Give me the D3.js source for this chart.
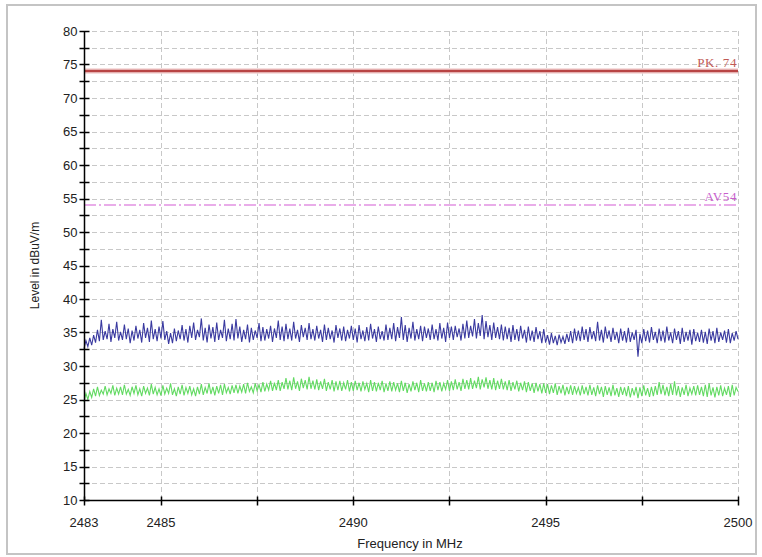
<!DOCTYPE html>
<html>
<head>
<meta charset="utf-8">
<script src="https://cdn.jsdelivr.net/npm/d3@7"></script>
<style>
  body { margin: 0; background: #fff; }
  svg { display: block; font-family: "Liberation Sans", Arial, sans-serif; }
</style>
</head>
<body>
<svg id="chart" width="762" height="557"></svg>
<script>
// sweep grid (MHz)
var freqStart = 2483, freqStep = 0.05;

// peak trace (dBuV/m), one value per sweep step
var peakLevel = [
  32.6,33.8,32.9,34.2,33.1,34.6,33.5,35.4,33.7,36.9,33.9,35.2,34.0,36.3,33.6,35.5,34.2,36.6,33.8,35.1,
  33.9,36.2,34.0,35.6,33.4,35.3,33.8,36.0,34.1,35.4,33.5,36.4,34.2,35.7,33.6,36.8,34.0,35.5,33.7,35.9,
  34.1,36.7,33.9,35.2,33.3,34.9,33.4,35.6,33.7,35.3,34.0,36.1,33.8,35.5,33.5,36.0,34.2,36.5,33.9,35.4,
  34.3,37.1,33.8,35.7,33.5,36.2,34.1,35.8,33.6,36.5,33.9,35.4,34.2,36.9,33.7,35.6,34.0,36.3,33.8,37.0,
  34.1,35.9,33.6,35.4,34.0,36.2,33.5,35.7,33.9,35.3,34.2,36.4,33.7,35.8,33.8,35.5,34.1,36.0,33.6,35.6,
  34.2,36.8,33.9,35.9,33.7,36.3,34.0,35.6,33.8,36.6,34.1,35.4,33.6,36.1,34.3,35.7,33.9,36.4,34.0,35.5,
  33.8,36.0,34.1,35.4,33.6,36.2,33.9,35.7,34.0,35.3,33.5,36.1,34.2,35.6,33.8,35.9,33.7,35.4,34.1,36.0,
  33.9,35.6,33.5,36.1,34.0,35.3,33.7,35.8,33.8,36.3,34.1,35.5,33.6,35.9,34.0,35.2,33.8,36.2,33.9,35.7,
  34.0,36.4,33.7,35.8,34.2,37.3,33.9,36.1,33.6,35.7,34.1,36.6,33.8,35.5,34.0,36.0,33.7,35.9,34.2,35.6,
  33.9,36.2,34.0,35.5,33.8,36.4,34.1,35.7,33.6,36.5,34.2,35.9,33.9,36.0,34.3,35.6,33.8,36.3,34.1,36.8,
  34.2,36.0,34.4,37.0,34.1,36.4,34.5,37.6,34.0,36.7,34.3,36.1,33.9,36.5,34.2,35.8,34.0,36.2,33.8,35.9,
  34.0,35.7,33.6,36.1,33.9,35.5,33.7,36.0,34.1,35.4,33.5,35.9,33.8,35.3,33.6,35.8,34.0,35.2,33.4,35.5,
  33.5,34.6,33.2,34.9,33.4,34.5,33.1,34.7,33.5,34.4,33.3,34.8,33.6,35.2,33.4,35.6,33.8,35.3,33.7,35.9,
  33.9,35.5,33.6,35.8,34.0,35.2,33.7,36.6,33.8,35.4,33.5,35.9,34.1,35.3,33.6,35.7,33.9,35.1,33.4,35.6,
  33.8,35.2,33.5,35.7,33.6,35.0,33.9,35.4,31.4,34.8,33.4,35.5,33.7,35.3,33.5,35.8,33.9,35.1,33.4,35.6,
  33.7,35.3,33.5,35.9,33.8,35.0,33.4,35.6,33.9,35.2,33.3,35.7,33.6,35.1,33.8,35.4,33.2,35.5,33.7,35.0,
  33.6,35.4,33.5,35.1,33.3,35.6,33.8,35.2,33.4,35.7,33.6,35.0,33.9,35.3,33.5,35.5,33.4,34.9,33.8,35.2,
  34.0
];

// average trace (dBuV/m)
var avgLevel = [
  24.6,25.9,25.0,26.2,25.3,26.6,25.5,26.9,25.6,26.4,25.8,27.0,25.7,26.6,25.9,27.1,25.6,26.7,25.8,26.9,
  25.7,27.2,25.8,26.5,25.6,26.9,25.9,27.1,25.7,26.6,25.5,27.0,25.9,26.7,25.6,27.3,25.8,26.8,25.7,26.6,
  25.6,27.1,25.8,26.7,25.9,27.4,25.7,26.6,25.5,26.9,25.8,27.2,25.6,26.8,25.9,27.0,25.7,26.6,25.5,26.9,
  25.8,27.3,25.7,26.8,25.9,27.4,25.8,26.9,25.6,27.0,25.9,27.2,25.7,27.3,26.0,26.8,25.8,27.1,26.0,27.2,
  25.9,27.0,26.1,27.3,25.9,27.5,26.2,26.9,26.0,27.4,26.3,27.2,26.1,27.6,26.2,27.3,26.4,27.8,26.3,27.5,
  26.4,27.9,26.3,27.6,26.6,28.2,26.5,27.8,26.4,28.3,26.6,27.7,26.3,28.1,26.7,27.9,26.5,28.4,26.6,27.8,
  26.5,28.0,26.4,27.7,26.6,28.1,26.3,27.6,26.5,27.9,26.2,27.7,26.4,27.8,26.3,27.5,26.5,27.9,26.2,27.6,
  26.3,27.8,26.4,27.5,26.2,27.7,26.5,27.4,26.1,27.9,26.3,27.6,26.2,27.5,26.4,27.8,26.1,27.4,26.3,27.7,
  26.2,27.6,26.4,27.4,26.1,27.8,26.3,27.5,26.0,27.3,26.2,27.7,26.4,27.5,26.1,27.9,26.3,27.4,26.2,27.6,
  26.3,27.5,26.1,27.8,26.4,27.6,26.2,27.4,26.5,27.9,26.3,27.7,26.4,28.0,26.5,27.6,26.3,28.1,26.6,27.9,
  26.5,28.2,26.6,27.8,26.7,28.4,26.5,28.0,26.8,28.3,26.6,27.9,26.5,28.2,26.4,27.8,26.6,28.1,26.5,27.7,
  26.4,27.9,26.3,27.6,26.5,27.8,26.2,27.5,26.4,27.7,26.1,27.6,26.3,27.4,26.0,27.5,26.2,27.3,25.9,27.4,
  26.0,27.3,25.8,27.1,26.0,27.4,25.7,27.0,25.9,27.2,25.6,26.9,25.8,27.1,25.7,27.0,25.9,26.8,25.6,27.1,
  25.8,26.9,25.6,27.2,25.7,26.8,25.5,27.1,25.8,26.9,25.4,27.0,25.7,26.8,25.5,27.2,25.6,26.7,25.4,26.9,
  25.7,26.8,25.5,27.0,25.3,26.7,25.6,26.9,25.2,26.8,25.5,27.1,25.6,26.7,25.4,26.9,25.5,27.0,25.7,27.6,
  25.8,27.2,25.6,26.9,25.5,27.3,25.7,27.7,25.6,27.0,25.4,26.8,25.7,27.2,25.5,26.7,25.8,27.0,25.6,27.1,
  25.7,26.9,25.5,27.2,25.4,27.4,25.6,26.8,25.3,26.9,25.6,27.1,25.5,26.7,25.7,27.0,25.4,27.2,25.6,26.8,
  26.2
];

// limit lines
var limits = [
  { name: "PK. 74", level: 74, color: "#b84444", text: "#c05a55", width: 2.5, dash: null },
  { name: "AV54", level: 54, color: "#d45ad4", text: "#c860cc", width: 1.2, dash: "12,3,2,3" }
];

var xTicks = [2483, 2485, 2487.5, 2490, 2492.5, 2495, 2497.5, 2500];
var xLabels = [2483, 2485, 2490, 2495, 2500];
var yTicks = d3.range(10, 80.1, 2.5);
var yLabels = d3.range(10, 80.1, 5);

var svg = d3.select("#chart");
var plotL = 84, plotR = 738, plotT = 31, plotB = 500;

// outer frame
svg.append("rect")
    .attr("x", 7).attr("y", 5)
    .attr("width", 749).attr("height", 549)
    .attr("fill", "none")
    .attr("stroke", "#c4c4c4")
    .attr("stroke-width", 2);

var x = d3.scaleLinear().domain([2483, 2500]).range([plotL, plotR]);
var y = d3.scaleLinear().domain([10, 80]).range([plotB, plotT]);

// grid
var grid = svg.append("g").attr("class", "grid");
grid.selectAll("line.h")
    .data(yTicks.filter(function(d){ return d > 10; }))
  .enter().append("line")
    .attr("x1", plotL).attr("x2", plotR)
    .attr("y1", function(d){ return Math.round(y(d)) + 0.5; })
    .attr("y2", function(d){ return Math.round(y(d)) + 0.5; })
    .attr("stroke", "#c8c8c8")
    .attr("stroke-dasharray", "5,3");
grid.selectAll("line.v")
    .data(xTicks.filter(function(d){ return d > 2483; }))
  .enter().append("line")
    .attr("y1", plotT).attr("y2", plotB)
    .attr("x1", function(d){ return Math.round(x(d)) + 0.5; })
    .attr("x2", function(d){ return Math.round(x(d)) + 0.5; })
    .attr("stroke", "#c8c8c8")
    .attr("stroke-dasharray", "5,3");

// limit lines
limits.forEach(function(l){
  var yy = Math.round(y(l.level));
  if (l.width > 2) {
    svg.append("line")
      .attr("x1", plotL).attr("x2", plotR).attr("y1", yy).attr("y2", yy)
      .attr("stroke", "#f3d3d3").attr("stroke-width", l.width + 3);
  }
  svg.append("line")
    .attr("x1", plotL).attr("x2", plotR).attr("y1", yy).attr("y2", yy)
    .attr("stroke", l.color)
    .attr("stroke-width", l.width)
    .attr("stroke-dasharray", l.dash);
  svg.append("text")
    .attr("x", plotR - 1).attr("y", yy - 4)
    .attr("text-anchor", "end")
    .attr("fill", l.text)
    .style("font-family", "'Liberation Serif', 'DejaVu Serif', serif")
    .style("font-size", "13px")
    .style("letter-spacing", "0.6px")
    .text(l.name);
});

// traces
var line = d3.line()
    .x(function(d, i){ return x(freqStart + i * freqStep); })
    .y(function(d){ return y(d); });

svg.append("path")
    .datum(avgLevel)
    .attr("fill", "none")
    .attr("stroke", "#62da62")
    .attr("stroke-width", 1.1)
    .attr("d", line);

svg.append("path")
    .datum(peakLevel)
    .attr("fill", "none")
    .attr("stroke", "#3a3aa0")
    .attr("stroke-width", 1.1)
    .attr("d", line);

// axes
var yAxis = svg.append("g").attr("transform", "translate(" + (plotL + 0.5) + ",0)");
yAxis.append("line").attr("y1", plotT).attr("y2", plotB).attr("stroke", "#000").attr("stroke-width", 1.5);
yAxis.selectAll("line.t")
    .data(yTicks)
  .enter().append("line")
    .attr("x1", -5).attr("x2", 5)
    .attr("y1", function(d){ return Math.round(y(d)) + 0.5; })
    .attr("y2", function(d){ return Math.round(y(d)) + 0.5; })
    .attr("stroke", "#000").attr("stroke-width", 1.5);
yAxis.selectAll("text")
    .data(yLabels)
  .enter().append("text")
    .attr("x", -7)
    .attr("y", function(d){ return y(d); })
    .attr("dy", "0.35em")
    .attr("text-anchor", "end")
    .attr("fill", "#222")
    .style("font-size", "13px")
    .text(function(d){ return d; });

var xAxis = svg.append("g").attr("transform", "translate(0," + (plotB + 0.5) + ")");
xAxis.append("line").attr("x1", plotL).attr("x2", plotR).attr("stroke", "#000").attr("stroke-width", 1.5);
xAxis.selectAll("line.t")
    .data(xTicks)
  .enter().append("line")
    .attr("y1", -4).attr("y2", 5)
    .attr("x1", function(d){ return Math.round(x(d)) + 0.5; })
    .attr("x2", function(d){ return Math.round(x(d)) + 0.5; })
    .attr("stroke", "#000").attr("stroke-width", 1.5);
xAxis.selectAll("text")
    .data(xLabels)
  .enter().append("text")
    .attr("x", function(d){ return x(d); })
    .attr("y", 26)
    .attr("text-anchor", "middle")
    .attr("fill", "#222")
    .style("font-size", "13px")
    .text(function(d){ return d; });

// titles
svg.append("text")
    .attr("x", 410).attr("y", 548)
    .attr("text-anchor", "middle")
    .attr("fill", "#222")
    .style("font-size", "13px")
    .text("Frequency in MHz");

svg.append("text")
    .attr("transform", "translate(39," + ((plotT + plotB) / 2) + ") rotate(-90)")
    .attr("text-anchor", "middle")
    .attr("fill", "#222")
    .style("font-size", "12px")
    .text("Level in dBuV/m");
</script>
</body>
</html>
